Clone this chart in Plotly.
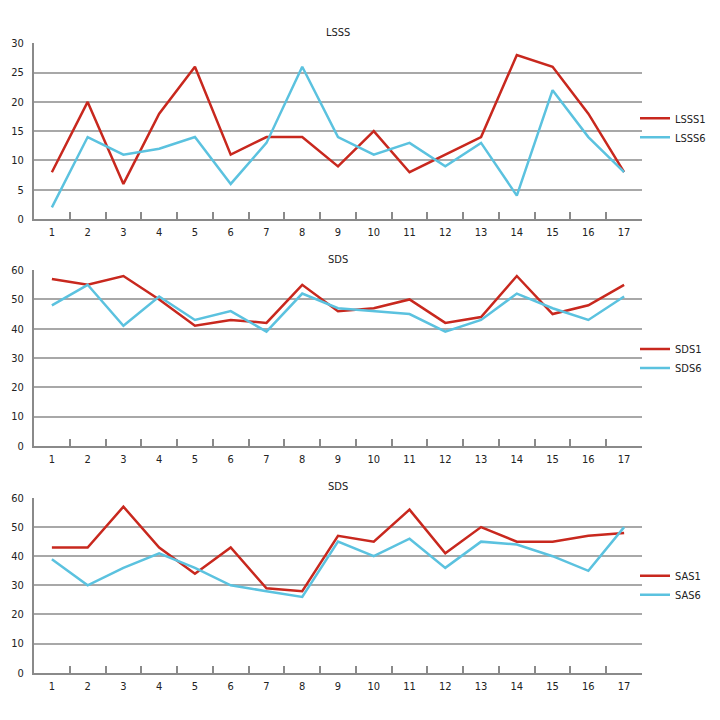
import plotly.graph_objects as go

categories = [str(i) for i in range(1, 18)]

lsss1 = [8, 20, 6, 18, 26, 11, 14, 14, 9, 15, 8, 11, 14, 28, 26, 18, 8]
lsss6 = [2, 14, 11, 12, 14, 6, 13, 26, 14, 11, 13, 9, 13, 4, 22, 14, 8]

sds1 = [57, 55, 58, 50, 41, 43, 42, 55, 46, 47, 50, 42, 44, 58, 45, 48, 55]
sds6 = [48, 55, 41, 51, 43, 46, 39, 52, 47, 46, 45, 39, 43, 52, 47, 43, 51]

sas1 = [43, 43, 57, 43, 34, 43, 29, 28, 47, 45, 56, 41, 50, 45, 45, 47, 48]
sas6 = [39, 30, 36, 41, 36, 30, 28, 26, 45, 40, 46, 36, 45, 44, 40, 35, 50]

panel_titles = ["LSSS", "SDS", "SDS"]
series_names = [("LSSS1", "LSSS6"), ("SDS1", "SDS6"), ("SAS1", "SAS6")]
y_ranges = [(0, 30, 5), (0, 60, 10), (0, 60, 10)]

RED = "#C8281E"
CYAN = "#5BC2DF"
FONT = "DejaVu Sans Condensed, DejaVu Sans, sans-serif"
W = H = 720

panels_px = [(38, 217), (269, 448), (501, 679)]
x_left, x_right = 34, 642
title_px = [27, 258, 489]
legend_px = [124, 359, 590]

data = [(lsss1, lsss6), (sds1, sds6), (sas1, sas6)]


def fnt(size=11):
    return dict(family=FONT, size=size, color="#222")


fig = go.Figure()
layout = dict(
    width=W, height=H,
    margin=dict(l=0, r=0, t=0, b=0),
    paper_bgcolor="white", plot_bgcolor="white",
    font=fnt(),
    annotations=[],
)

for i in range(3):
    ax = "" if i == 0 else str(i + 1)
    a, b = data[i]
    n1, n2 = series_names[i]
    leg = "legend" if i == 0 else f"legend{i + 1}"
    fig.add_trace(go.Scatter(x=categories, y=a, name=n1, mode="lines",
                             line=dict(color=RED, width=2.5),
                             xaxis="x" + ax, yaxis="y" + ax, legend=leg))
    fig.add_trace(go.Scatter(x=categories, y=b, name=n2, mode="lines",
                             line=dict(color=CYAN, width=2.5),
                             xaxis="x" + ax, yaxis="y" + ax, legend=leg))
    top, bot = panels_px[i]
    ymin, ymax, dt = y_ranges[i]
    layout["xaxis" + ax] = dict(
        domain=[x_left / W, x_right / W],
        anchor="y" + ax, type="category",
        range=[-0.5, len(categories) - 0.5],
        tickson="boundaries", ticks="inside", ticklen=7, tickwidth=2,
        tickcolor="#8a8a8a",
        showline=True, linecolor="#8a8a8a", linewidth=2,
        showgrid=False, zeroline=False,
        tickfont=fnt(), ticklabelstandoff=2,
        fixedrange=True,
    )
    layout["yaxis" + ax] = dict(
        domain=[1 - bot / H, 1 - top / H],
        anchor="x" + ax, range=[ymin, ymax], dtick=dt,
        showline=True, linecolor="#8a8a8a", linewidth=2,
        showgrid=True, gridcolor="#a8a8a8", gridwidth=1.5,
        zeroline=False, ticks="", ticklabelstandoff=6,
        tickfont=fnt(),
        fixedrange=True,
    )
    layout[leg] = dict(
        x=635 / W, y=1 - legend_px[i] / H, xanchor="left", yanchor="middle",
        itemwidth=30, tracegroupgap=0,
        font=fnt(11),
        bgcolor="rgba(0,0,0,0)",
    )
    layout["annotations"].append(dict(
        text=panel_titles[i], x=(x_left + x_right) / 2 / W, y=1 - title_px[i] / H,
        xref="paper", yref="paper", showarrow=False,
        font=fnt(),
        xanchor="center", yanchor="middle",
    ))

fig.update_layout(**layout)
fig.write_html(
    "out.html",
    config={"displayModeBar": False},
    post_script="document.body.style.margin='0';document.body.style.overflow='hidden';",
)
